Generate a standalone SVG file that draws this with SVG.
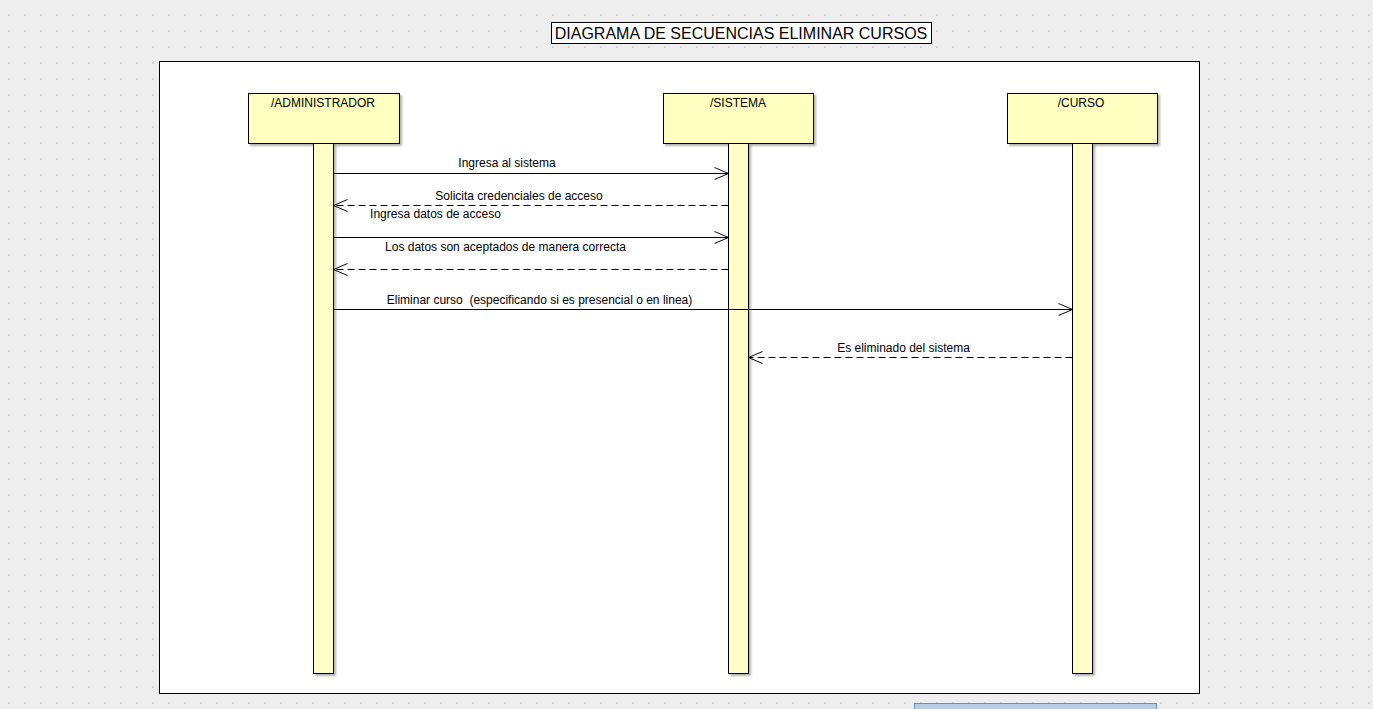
<svg xmlns="http://www.w3.org/2000/svg" width="1373" height="709" viewBox="0 0 1373 709">
<defs>
<pattern id="grid" x="0" y="0" width="16" height="16" patternUnits="userSpaceOnUse">
<rect x="8" y="14" width="2" height="2" fill="#d2d2d2"/>
</pattern>
<marker id="open" markerWidth="16" markerHeight="14" refX="15" refY="7" orient="auto" markerUnits="userSpaceOnUse">
<path d="M1,1 L15,7 L1,13" fill="none" stroke="#000" stroke-width="1"/>
</marker>
<filter id="sh" x="-10%" y="-10%" width="130%" height="130%">
<feDropShadow dx="2" dy="2" stdDeviation="1" flood-color="#000" flood-opacity="0.3"/>
</filter>
</defs>
<style>
.t{font-family:"Liberation Sans",Arial,sans-serif;font-size:12px;fill:#000}
.box{fill:#ffffc0;stroke:#000;stroke-width:1}
.act{fill:#ffffc8;stroke:#000;stroke-width:1}
.msg{stroke:#000;stroke-width:1;fill:none}
.dash{stroke-dasharray:7,4}
</style>
<rect width="1373" height="709" fill="#eeeeee"/>
<rect width="1373" height="709" fill="url(#grid)"/>
<g id="title">
<rect x="551.5" y="22.5" width="380" height="21" fill="#fff" stroke="#000"/>
<text x="741" y="39" text-anchor="middle" font-family="Liberation Sans, Arial, sans-serif" font-size="16">DIAGRAMA DE SECUENCIAS ELIMINAR CURSOS</text>
</g>
<g id="frame">
<rect x="159.5" y="61.5" width="1040" height="632" fill="#fff" stroke="#000" stroke-width="1"/>
</g>
<g id="administrador">
<rect class="box" x="248.5" y="93.5" width="151" height="50" filter="url(#sh)"/>
<text class="t" x="323" y="107" text-anchor="middle">/ADMINISTRADOR</text>
<rect class="act" x="313.5" y="143.5" width="20" height="530" filter="url(#sh)"/>
</g>
<g id="sistema">
<rect class="box" x="663.5" y="93.5" width="150" height="50" filter="url(#sh)"/>
<text class="t" x="738" y="107" text-anchor="middle">/SISTEMA</text>
<rect class="act" x="728.5" y="143.5" width="20" height="530" filter="url(#sh)"/>
</g>
<g id="curso">
<rect class="box" x="1007.5" y="93.5" width="150" height="50" filter="url(#sh)"/>
<text class="t" x="1081" y="107" text-anchor="middle">/CURSO</text>
<rect class="act" x="1072.5" y="143.5" width="20" height="530" filter="url(#sh)"/>
</g>
<g id="connectors">
<line class="msg" x1="333.5" y1="173.5" x2="728.5" y2="173.5" marker-end="url(#open)"/>
<text class="t" x="507" y="167" text-anchor="middle">Ingresa al sistema</text>
<line class="msg dash" x1="728.5" y1="205.5" x2="333.5" y2="205.5" marker-end="url(#open)"/>
<text class="t" x="519" y="200" text-anchor="middle">Solicita credenciales de acceso</text>
<line class="msg" x1="333.5" y1="237.5" x2="728.5" y2="237.5" marker-end="url(#open)"/>
<text class="t" x="435.5" y="218" text-anchor="middle">Ingresa datos de acceso</text>
<line class="msg dash" x1="728.5" y1="269.5" x2="333.5" y2="269.5" marker-end="url(#open)"/>
<text class="t" x="505.5" y="251" text-anchor="middle">Los datos son aceptados de manera correcta</text>
<line class="msg" x1="333.5" y1="309.5" x2="1072.5" y2="309.5" marker-end="url(#open)"/>
<text class="t" x="539.5" y="304" text-anchor="middle" xml:space="preserve">Eliminar curso  (especificando si es presencial o en linea)</text>
<line class="msg dash" x1="1072.5" y1="357.5" x2="748.5" y2="357.5" marker-end="url(#open)"/>
<text class="t" x="903.5" y="352" text-anchor="middle">Es eliminado del sistema</text>
</g>
<g id="note">
<rect x="914.5" y="703.5" width="242" height="20" fill="#b7cde4" stroke="#6a8bcc"/>
</g>
</svg>
